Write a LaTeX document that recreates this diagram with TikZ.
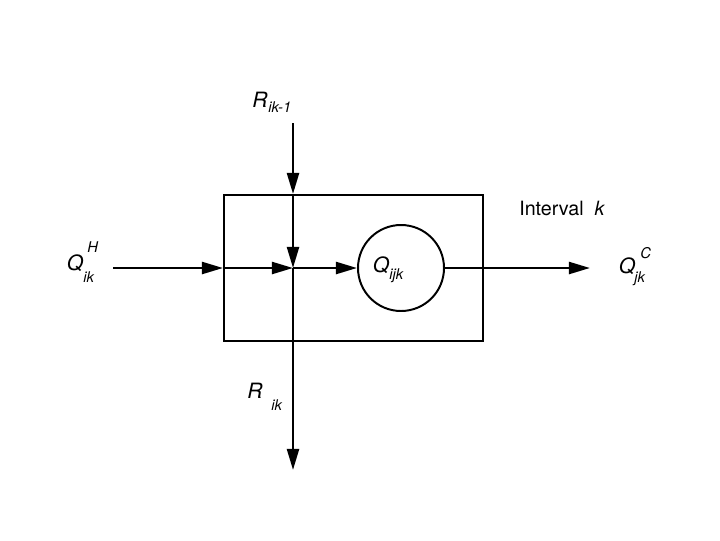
\documentclass[tikz,border=0pt]{standalone}
\usepackage{fontspec}
\setmainfont{TeX Gyre Heros}
\usetikzlibrary{arrows.meta,positioning}

\begin{document}
\begin{tikzpicture}[>={Triangle[length=15pt,width=8.5pt]},x=0.025cm,y=-0.025cm,
    flow/.style={line width=1.8pt},
    frame/.style={draw,line width=1.4pt},
    sym/.style={font=\fontsize{15}{17}\selectfont\itshape,inner sep=0pt},
    idx/.style={font=\fontsize{10.5}{12}\selectfont\itshape,inner sep=0pt,anchor=west}]
    \useasboundingbox (0,0) rectangle (720,540);

    % interval box and cell
    \node[frame,minimum width=259*0.025cm,minimum height=146*0.025cm] (box) at (353.5,268) {};
    \node[frame,circle,minimum size=86*0.025cm] (cell) at (401,268) {};
    \node[sym] (qijk) at (381,265) {Q};
    \node[idx] (qijksub) at (389,276) {ijk};
    \node[font=\fontsize{14}{16}\selectfont,inner sep=0pt,anchor=west] (interval) at (519,208) {Interval\ \ \textit{k}};

    % labels
    \node[sym] (rin) at (260,100) {R};
    \node[idx] (rinsub) at (268,107) {ik-1};
    \node[sym] (qh) at (75,263) {Q};
    \node[idx] (qhsup) at (87,247) {H};
    \node[idx] (qhsub) at (83,277) {ik};
    \node[sym] (qc) at (627,266) {Q};
    \node[idx] (qcsup) at (640,253) {C};
    \node[idx] (qcsub) at (634,279) {jk};
    \node[sym] (rout) at (255,391) {R};
    \node[idx] (routsub) at (271,405) {ik};

    \coordinate (rtop) at (293,123);
    \coordinate (join) at (293,268);
    \coordinate (rbot) at (293,470);
    \coordinate (hin) at (113,268);
    \coordinate (qend) at (590,268);

    % vertical flow
    \draw[flow,->] (rtop) -- (join |- box.north);
    \draw[flow,->] (join |- box.north) -- (join);
    \draw[flow,->] (join) -- (rbot);

    % horizontal flow
    \draw[flow,->] (hin) -- (box.west);
    \draw[flow,->] (box.west) -- (join);
    \draw[flow,->] (join) -- (cell.west);
    \draw[flow,->] (cell.east) -- (qend);
  \end{tikzpicture}
\end{document}
